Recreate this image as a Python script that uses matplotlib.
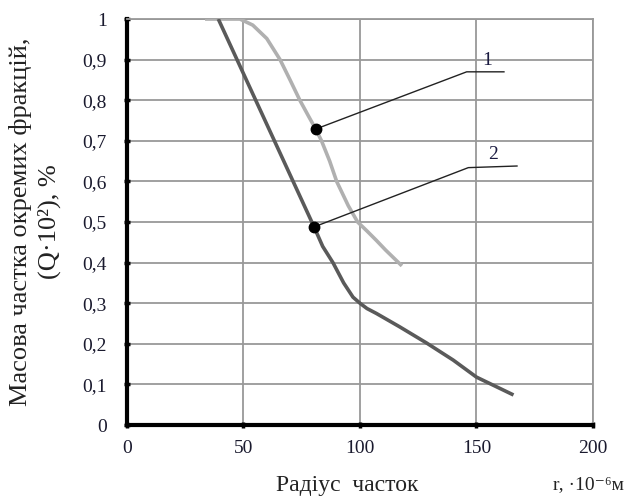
import matplotlib
matplotlib.use("Agg")
import matplotlib.pyplot as plt

plt.rcParams['font.family'] = ['Liberation Serif', 'DejaVu Serif']

# Curve 1 (light grey)
r1 = [33.5, 42, 48.5, 54, 60, 65.7, 70, 74.2, 78, 81, 83.5, 87, 90, 95, 99, 103, 107, 111, 118]
q1 = [1.0, 1.0, 1.0, 0.985, 0.952, 0.90, 0.85, 0.80, 0.76, 0.729, 0.70, 0.65, 0.60, 0.54, 0.50, 0.478, 0.455, 0.431, 0.392]
# Curve 2 (dark grey)
r2 = [39.2, 80.3, 84, 88.4, 93, 97, 100, 103, 107, 117, 128.6, 140, 150, 165.9]
q2 = [1.0, 0.488, 0.44, 0.40, 0.35, 0.315, 0.30, 0.287, 0.275, 0.242, 0.202, 0.16, 0.118, 0.074]

markers_r = [81, 80.3]
markers_q = [0.729, 0.488]
labels = ["1", "2"]
leader_x = [[81, 145.8, 161.8], [80.3, 146.5, 167.4]]
leader_y = [[0.729, 0.870, 0.870], [0.488, 0.634, 0.638]]
label_pos = [(154.5, 0.899), (157, 0.667)]

xticks = [0, 50, 100, 150, 200]
yticks = [0, 0.1, 0.2, 0.3, 0.4, 0.5, 0.6, 0.7, 0.8, 0.9, 1.0]
yticklabels = ["0", "0,1", "0,2", "0,3", "0,4", "0,5", "0,6", "0,7", "0,8", "0,9", "1"]

fig = plt.figure(figsize=(6.28, 4.96), dpi=100)
ax = fig.add_axes([0.2022, 0.1431, 0.742, 0.8185])
ax.set_xlim(0, 200)
ax.set_ylim(0, 1)

ax.plot(r1, q1, color='#b0b0b0', lw=2.6, solid_capstyle='butt', zorder=3)
ax.plot(r2, q2, color='#5a5a5a', lw=2.6, solid_capstyle='butt', zorder=3)
for lx, ly in zip(leader_x, leader_y):
    ax.plot(lx, ly, color='#222222', lw=1.0, zorder=4)
ax.plot(markers_r, markers_q, 'o', color='black', ms=7.5, zorder=5)
for lab, (px, py) in zip(labels, label_pos):
    ax.text(px, py, lab, fontsize=14, ha='center', va='center', color='#1a1a40')

ax.set_xticks(xticks)
ax.set_xticklabels([str(v) for v in xticks], fontsize=14)
ax.set_yticks(yticks)
ax.set_yticklabels(yticklabels, fontsize=14)
ax.grid(True, color='#999999', lw=1.3)
ax.set_axisbelow(True)
for s in ['top', 'right']:
    ax.spines[s].set_color('#999999')
    ax.spines[s].set_linewidth(1.3)
for s in ['left', 'bottom']:
    ax.spines[s].set_color('black')
    ax.spines[s].set_linewidth(3)
ax.tick_params(axis='both', direction='inout', length=5, width=2.5, colors='black', labelcolor='#1a1a2e')
ax.tick_params(axis='y', pad=12)
ax.tick_params(axis='x', pad=8)

fig.text(35 / 628, 1 - 222 / 496, "Масова частка окремих фракцій,\n(Q·10²), %", fontsize=19,
         rotation=90, ha='center', va='center', multialignment='center', color='#222222', linespacing=1.3)
fig.text(347 / 628, 1 - 486 / 496, "Радіус  часток", fontsize=17, ha='center', va='center', color='#222222')
fig.text(588 / 628, 1 - 485 / 496, "r, ·10⁻⁶м", fontsize=14, ha='center', va='center', color='#222222')

fig.savefig("out.png", dpi=100)
